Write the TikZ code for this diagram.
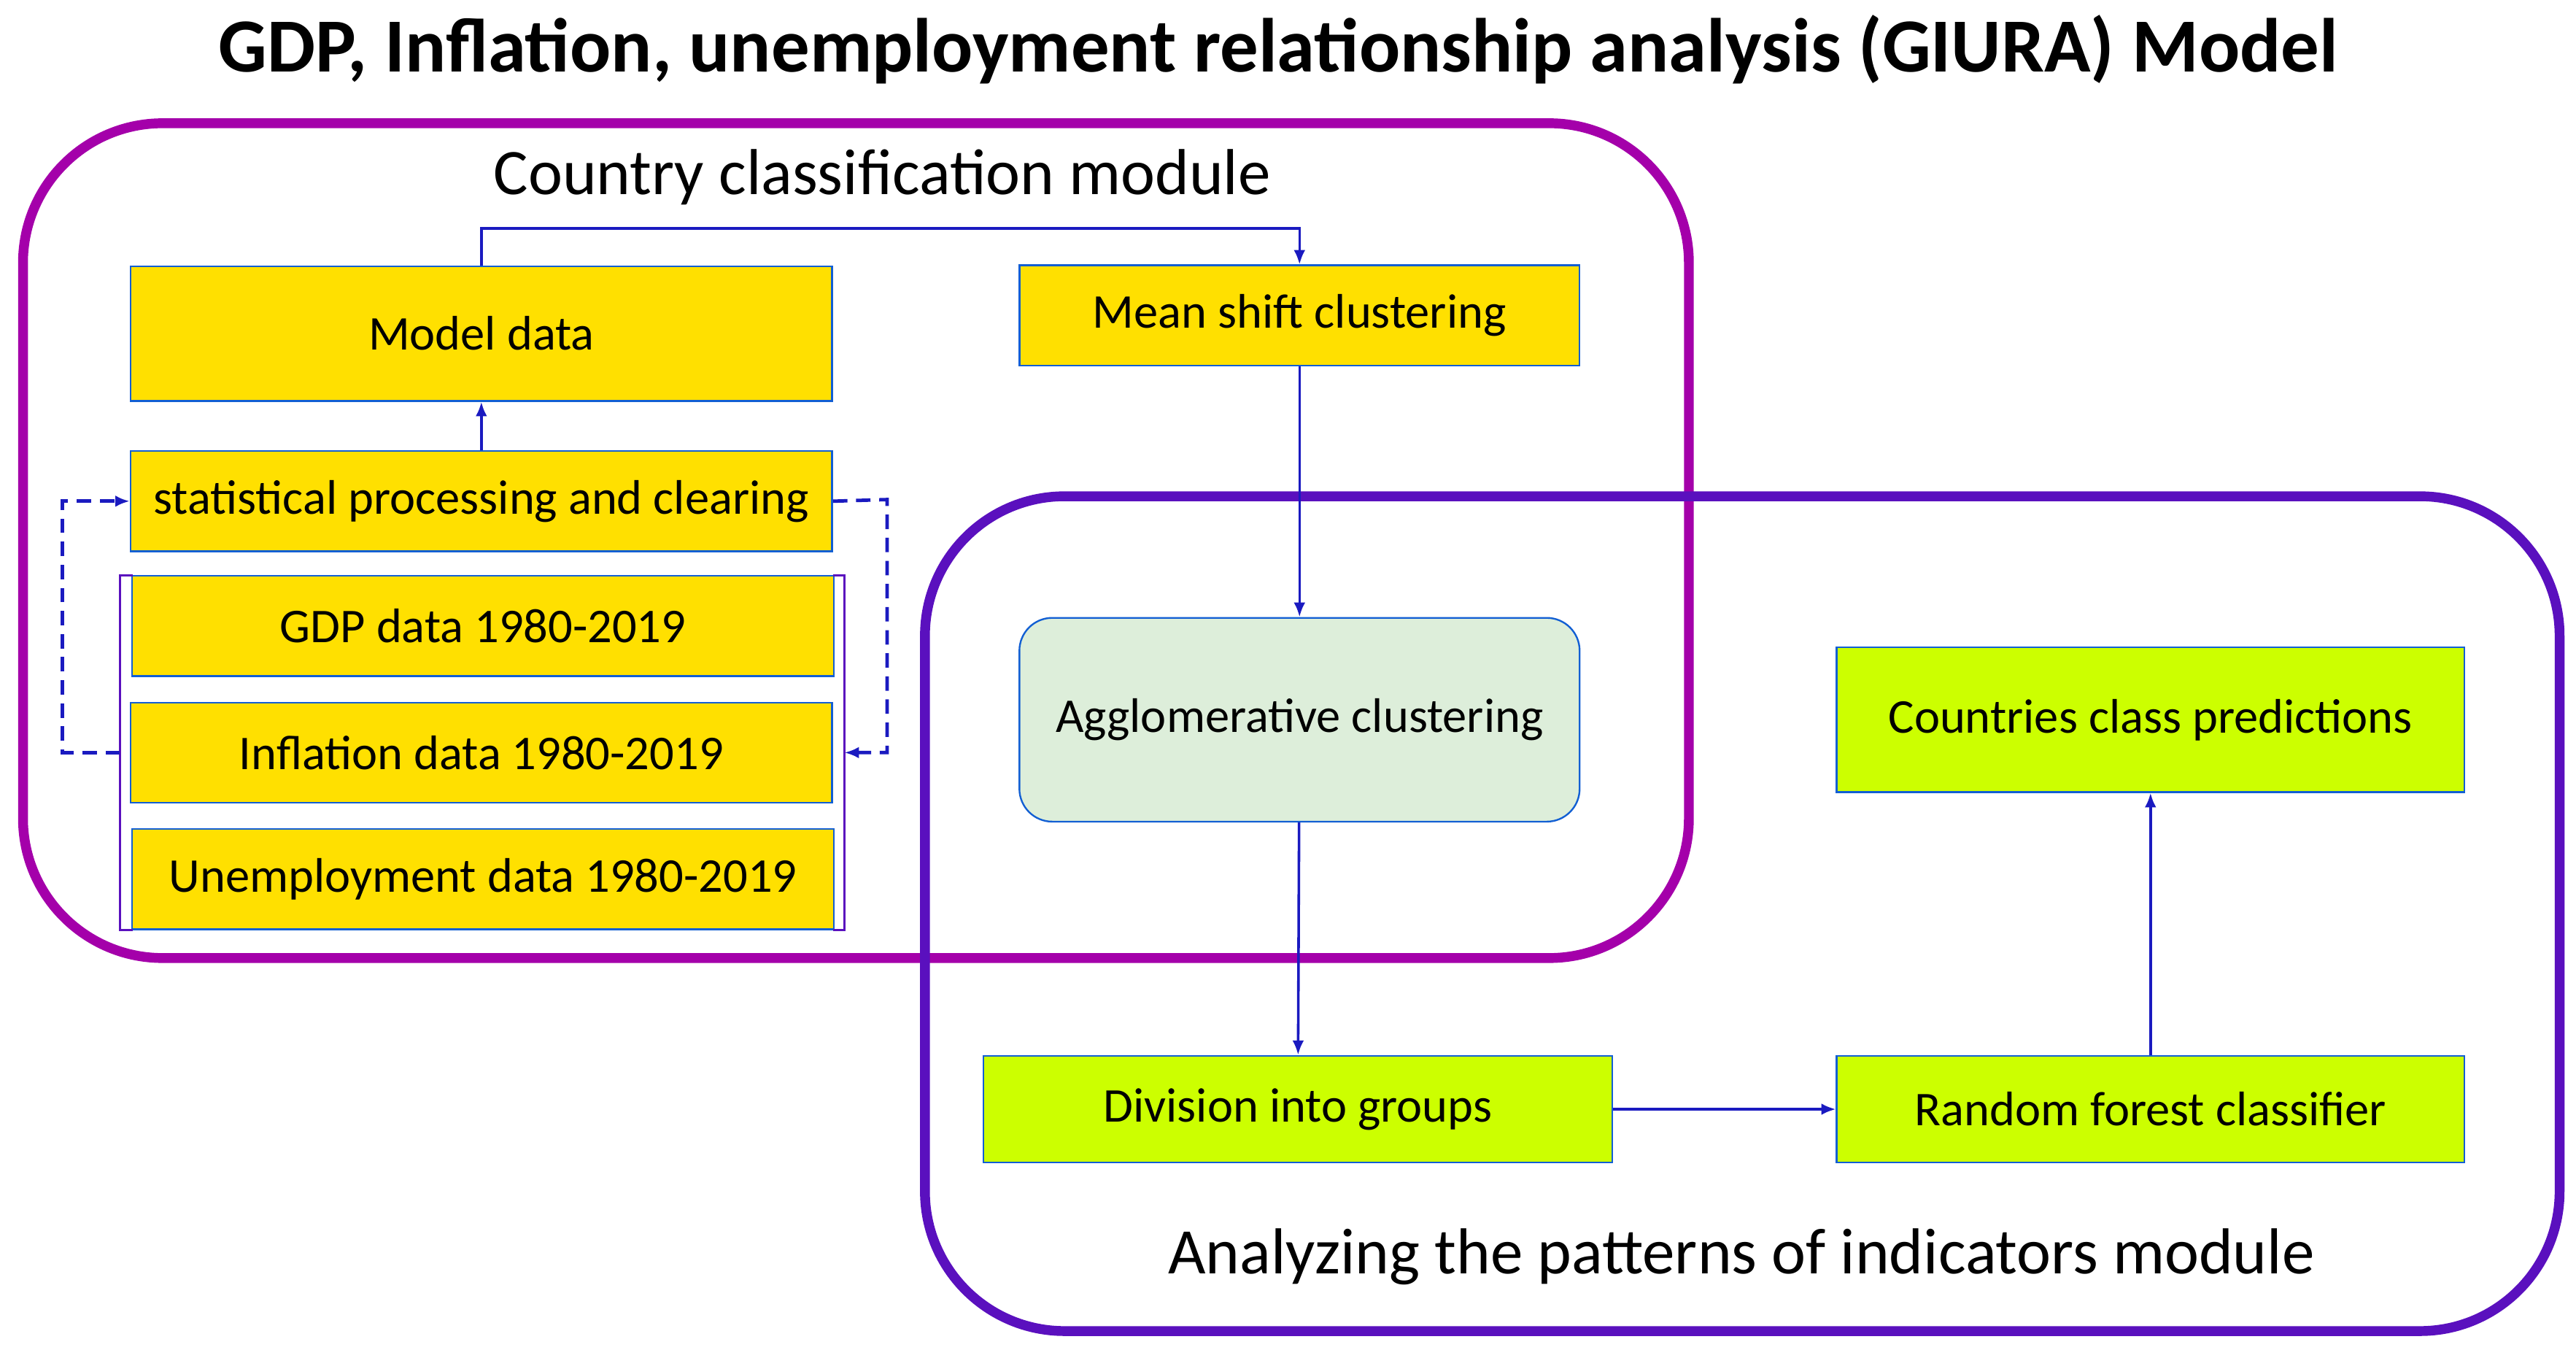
\documentclass[tikz,border=0pt]{standalone}
\usepackage{fontspec}
\setmainfont{Carlito}
\usetikzlibrary{arrows.meta,positioning}
\definecolor{frameA}{HTML}{A400AA}
\definecolor{frameB}{HTML}{5A10BE}
\definecolor{boxY}{HTML}{FFE000}
\definecolor{boxG}{HTML}{CCFF00}
\definecolor{boxM}{HTML}{DDEEDA}
\definecolor{flow}{HTML}{1A1AC0}
\tikzset{
  data/.style={draw=flow!70!cyan, line width=0.6pt, fill=boxY, font=\fontsize{16.8}{19}\selectfont},
  stage/.style={draw=flow!70!cyan, line width=0.6pt, fill=boxG, font=\fontsize{16.8}{19}\selectfont},
  module/.style={line width=3.4pt, rounded corners=1.7cm},
  link/.style={draw=flow, line width=0.9pt, -{Latex[length=5pt,width=4pt]}},
}
\begin{document}
\begin{tikzpicture}[x=0.02cm, y=-0.02cm]
  \useasboundingbox (0,0) rectangle (1568,821.5);
  % Title and modules
  \node[font=\fontsize{26.5}{30}\selectfont\bfseries] (title) at (778,30) {GDP, Inflation, unemployment relationship analysis (GIURA) Model};
  \draw[module, frameA] (14,75) rectangle (1028,583);
  \draw[module, frameB] (563,302) rectangle (1558,810);
  \node[font=\fontsize{22.5}{26}\selectfont] (cmod) at (537,108) {Country classification module};
  \node[font=\fontsize{22.5}{26}\selectfont] (amod) at (1060,765) {Analyzing the patterns of indicators module};

  % Data boxes
  \node[data, minimum width=427*0.02cm, minimum height=82*0.02cm] (model) at (293,203) {Model data};
  \node[data, minimum width=427*0.02cm, minimum height=61*0.02cm] (stat)  at (293,305) {statistical processing and clearing};
  \node[data, minimum width=427*0.02cm, minimum height=61*0.02cm] (gdp)   at (294,381) {GDP data 1980-2019};
  \node[data, minimum width=427*0.02cm, minimum height=61*0.02cm] (infl)  at (293,458) {Inflation data 1980-2019};
  \node[data, minimum width=427*0.02cm, minimum height=61*0.02cm] (unemp) at (294,535) {Unemployment data 1980-2019};
  \draw[frameB, line width=0.8pt] (81,350) -- (73,350) -- (73,566) -- (81,566);
  \draw[frameB, line width=0.8pt] (507,350) -- (514,350) -- (514,566) -- (507,566);
  \coordinate (bl) at (73,458);
  \coordinate (br) at (514,458);

  % Clustering and classification
  \node[data, minimum width=341*0.02cm, minimum height=61*0.02cm] (mean) at (791,192) {Mean shift clustering};
  \node[draw=flow!70!cyan, line width=0.6pt, fill=boxM, rounded corners=0.4cm, minimum width=341*0.02cm, minimum height=124*0.02cm, font=\fontsize{16.8}{19}\selectfont] (aggl) at (791,438) {Agglomerative clustering};
  \node[stage, minimum width=383*0.02cm, minimum height=65*0.02cm] (div)  at (790,675) {Division into groups};
  \node[stage, minimum width=382*0.02cm, minimum height=65*0.02cm] (rf)   at (1309,675) {Random forest classifier};
  \node[stage, minimum width=382*0.02cm, minimum height=88*0.02cm] (pred) at (1309,438) {Countries class predictions};

  % Connections
  \draw[link] (stat) -- (model);
  \draw[link] (model.north) |- (542,139) -| (mean.north);
  \draw[link] (mean) -- (aggl);
  \draw[link] (aggl) -- (div);
  \draw[link] (div) -- (rf);
  \draw[link] (rf) -- (pred);
  \draw[link, line width=1.2pt, dash pattern=on 5pt off 3pt] (bl) -- (38,458) |- (stat.west);
  \draw[link, line width=1.2pt, dash pattern=on 5pt off 3pt] (stat.east) -- (540,304) |- (br);
\end{tikzpicture}
\end{document}
